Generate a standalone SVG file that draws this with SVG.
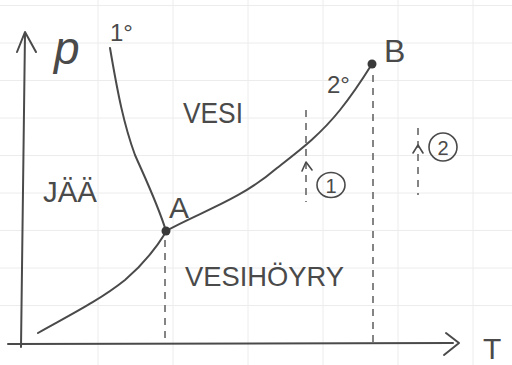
<svg xmlns="http://www.w3.org/2000/svg" width="512" height="365" viewBox="0 0 512 365">
<style>
.grid{stroke:#ececec;stroke-width:1;fill:none}
.ln{stroke:#4a4a4a;stroke-width:2;fill:none;stroke-linecap:round;stroke-linejoin:round}
.dash{stroke:#666;stroke-width:1.6;fill:none;stroke-dasharray:7 6}
.t{font-family:"Liberation Sans",Arial,sans-serif;fill:#4a4a4a;font-weight:normal}
.dot{fill:#3a3a3a}
</style>
<rect width="512" height="365" fill="#ffffff"/>
<g id="grid" class="grid">
<path d="M0 5.5H512M0 43H512M0 80.5H512M0 118H512M0 155.5H512M0 193H512M0 230.5H512M0 268H512M0 305.5H512"/>
<path d="M98 0V365M173 0V365M248 0V365M323 0V365M398 0V365M473 0V365"/>
</g>
<g id="axes">
<path class="ln" d="M21 347 L25 33"/>
<path class="ln" d="M17 52 L25 32 L36 52"/>
<path class="ln" d="M8 344 L453 343"/>
<path class="ln" d="M446 333 L459 343 L444 355"/>
<text class="t" x="54" y="64" font-size="46" font-style="italic" font-family="Liberation Serif,serif">p</text>
<text class="t" x="483" y="359" font-size="30">T</text>
</g>
<g id="connectors">
<path class="ln" id="curve-1" d="M110 48 C118 95 124 125 135 155 C146 180 158 205 166 231"/>
<path class="ln" id="curve-sub" d="M38 333 C70 315 100 300 125 280 C145 263 158 245 166 232"/>
<path class="ln" id="curve-2" d="M166 231 C200 212 240 200 277 168 C300 150 320 135 340 110 C352 95 362 80 372 64"/>
<path class="dash" d="M165 240 V341"/>
<path class="dash" d="M373 75 V343"/>
<path class="dash" d="M306 110 V202"/>
<path class="dash" d="M418 128 V195"/>
<path class="ln" style="stroke-width:1.6" d="M302 171 L306 162 L312 170"/>
<path class="ln" style="stroke-width:1.6" d="M413 153 L418 145 L423 153"/>
</g>
<g id="node-A">
<circle class="dot" cx="166" cy="231" r="4.5"/>
<text class="t" x="169" y="218" font-size="30">A</text>
</g>
<g id="node-B">
<circle class="dot" cx="372" cy="64" r="4.5"/>
<text class="t" x="384" y="62" font-size="32">B</text>
</g>
<g id="label-1deg">
<text class="t" x="110" y="41" font-size="24">1°</text>
</g>
<g id="label-2deg">
<text class="t" x="327" y="93" font-size="24">2°</text>
</g>
<g id="label-vesi">
<text class="t" x="183" y="123" font-size="30" textLength="60" lengthAdjust="spacingAndGlyphs">VESI</text>
</g>
<g id="label-jaa">
<text class="t" x="43" y="202" font-size="30" textLength="54" lengthAdjust="spacingAndGlyphs">JÄÄ</text>
</g>
<g id="label-vesihoyry">
<text class="t" x="185" y="286" font-size="28" textLength="159" lengthAdjust="spacingAndGlyphs">VESIHÖYRY</text>
</g>
<g id="marker-1">
<ellipse cx="331" cy="185" rx="14" ry="12.5" class="ln" style="stroke-width:1.6"/>
<text class="t" x="331" y="193" font-size="20" text-anchor="middle">1</text>
</g>
<g id="marker-2">
<circle cx="443" cy="147" r="14" class="ln" style="stroke-width:1.6"/>
<text class="t" x="443" y="155" font-size="20" text-anchor="middle">2</text>
</g>
</svg>
